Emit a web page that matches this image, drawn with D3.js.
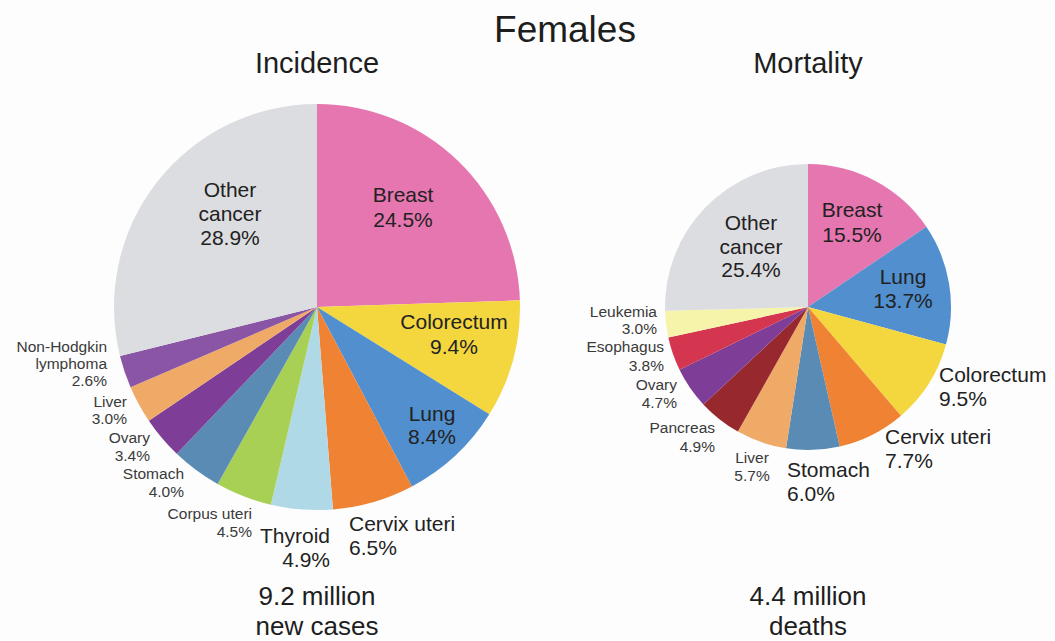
<!DOCTYPE html>
<html>
<head>
<meta charset="utf-8">
<title>Females</title>
<style>
  html, body { margin: 0; padding: 0; background: #fdfdfd; }
  svg { display: block; font-family: "Liberation Sans", Arial, sans-serif; }
</style>
</head>
<body>
<script src="https://cdn.jsdelivr.net/npm/d3@7"></script>
<script>
// incidence (clockwise from 12 o'clock)
var incSites  = ["Breast", "Colorectum", "Lung", "Cervix uteri", "Thyroid", "Corpus uteri",
                 "Stomach", "Ovary", "Liver", "Non-Hodgkin lymphoma", "Other cancer"];
var incValues = [24.5, 9.4, 8.4, 6.5, 4.9, 4.5, 4.0, 3.4, 3.0, 2.6, 28.9];

// mortality
var morSites  = ["Breast", "Lung", "Colorectum", "Cervix uteri", "Stomach", "Liver",
                 "Pancreas", "Ovary", "Esophagus", "Leukemia", "Other cancer"];
var morValues = [15.5, 13.7, 9.5, 7.7, 6.0, 5.7, 4.9, 4.7, 3.8, 3.0, 25.4];

var totals = ["9.2 million", "4.4 million"];
var totalUnits = ["new cases", "deaths"];

var colors = {
  "Breast": "#e676b0", "Colorectum": "#f4d63e", "Lung": "#518fce", "Cervix uteri": "#f08333",
  "Thyroid": "#b0d9e8", "Corpus uteri": "#a8d055", "Stomach": "#5a8bb4", "Ovary": "#7e3e97",
  "Liver": "#f0aa68", "Non-Hodgkin lymphoma": "#8b55a6", "Other cancer": "#dcdde0",
  "Pancreas": "#97282e", "Esophagus": "#d5364f", "Leukemia": "#f6f3aa"
};

// label placement, relative to each pie centre: [anchor, dx, first baseline dy, big?, line step]
var incLabelPos = [
  ["middle",   86, -105, 1, 25], ["middle", 137,  22, 1, 25], ["middle", 115, 114, 1, 23],
  ["start",    32,  224, 1, 24], ["end",     13, 236, 1, 24], ["end",   -65, 212, 0, 18],
  ["end",    -133,  172, 0, 18], ["end",   -167, 136, 0, 18], ["end",  -190, 100, 0, 17],
  ["end",    -210,   45, 0, 17], ["middle", -87, -110, 1, 24]
];
var morLabelPos = [
  ["middle",   44,  -90, 1, 25], ["middle",  95, -23, 1, 24], ["start", 131,  75, 1, 24],
  ["start",    77,  137, 1, 24], ["start",  -21, 170, 1, 24], ["middle", -56, 156, 0, 18],
  ["end",     -93,  126, 0, 19], ["end",   -131,  83, 0, 18], ["end",  -144,  45, 0, 19],
  ["end",    -151,   10, 0, 17], ["middle", -57, -77, 1, 23.5]
];

var width = 1055, height = 641;
var svg = d3.select("body").append("svg")
  .attr("width", width).attr("height", height);

svg.append("text")
  .attr("x", 565).attr("y", 42)
  .attr("text-anchor", "middle")
  .attr("font-size", 37).attr("fill", "#1e1e1e")
  .text("Females");

function labelLines(name, v) {
  var parts;
  if (name == "Other cancer") parts = ["Other", "cancer"];
  else if (name == "Non-Hodgkin lymphoma") parts = ["Non-Hodgkin", "lymphoma"];
  else parts = [name];
  return parts.concat([v.toFixed(1) + "%"]);
}

function drawPie(cx, cy, r, title, sites, values, pos, total, unit) {
  var g = svg.append("g").attr("transform", "translate(" + cx + "," + cy + ")");

  var pie = d3.pie().sort(null).value(function(d) { return d; });
  var arc = d3.arc().innerRadius(0).outerRadius(r);

  g.selectAll("path")
    .data(pie(values))
    .enter()
    .append("path")
    .attr("d", arc)
    .attr("fill", function(d, i) { return colors[sites[i]]; });

  sites.forEach(function(s, i) {
    var p = pos[i];
    var t = g.append("text")
      .attr("text-anchor", p[0])
      .attr("font-size", p[3] ? 21 : 15.5)
      .attr("fill", p[3] ? "#222" : "#3a3a3a");
    labelLines(s, values[i]).forEach(function(line, j) {
      t.append("tspan")
        .attr("x", p[1])
        .attr("y", p[2] + j * p[4])
        .text(line);
    });
  });

  svg.append("text")
    .attr("x", cx).attr("y", 73)
    .attr("text-anchor", "middle")
    .attr("font-size", 29).attr("fill", "#1e1e1e")
    .text(title);

  // totals under each pie
  svg.append("text")
    .attr("x", cx).attr("y", 605)
    .attr("text-anchor", "middle")
    .attr("font-size", 26).attr("fill", "#1e1e1e")
    .text(total);
  svg.append("text")
    .attr("x", cx).attr("y", 635)
    .attr("text-anchor", "middle")
    .attr("font-size", 26).attr("fill", "#1e1e1e")
    .text(unit);
}

drawPie(317, 307, 203, "Incidence", incSites, incValues, incLabelPos, totals[0], totalUnits[0]);
drawPie(808, 307, 143, "Mortality", morSites, morValues, morLabelPos, totals[1], totalUnits[1]);
</script>
</body>
</html>
